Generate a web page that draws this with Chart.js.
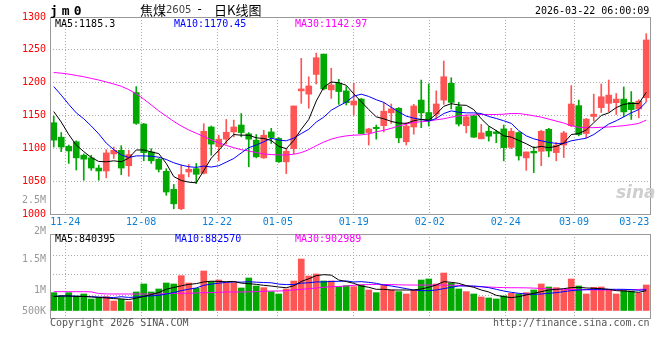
<!DOCTYPE html>
<html>
<head>
<meta charset="utf-8">
<title>jm0 日K线图</title>
<script src="https://cdn.jsdelivr.net/npm/chart.js@4.4.1/dist/chart.umd.min.js"></script>
<style>
    body { margin: 0; background: #fff; }
    #wrap { position: relative; width: 660px; height: 360px; overflow: hidden; font-family: "DejaVu Sans Mono", monospace; font-size: 10px; }
    #wrap canvas { position: absolute; left: 0; top: 0; }
    .t { position: absolute; white-space: nowrap; line-height: 10px; }
    .frame { position: absolute; border: 1px solid #999; box-sizing: border-box; }
</style>
</head>
<body>
<div id="wrap">
    <canvas id="priceChart" width="660" height="360"></canvas>
    <canvas id="volChart" width="660" height="360"></canvas>
    <div class="frame" style="left:50px;top:17px;width:601px;height:198px"></div>
    <div class="frame" style="left:50px;top:234px;width:601px;height:85px"></div>

    <div class="t" style="left:50px;top:4px;font-size:13px;line-height:13px;font-weight:bold;letter-spacing:4px">jm0</div>
    <div class="t" style="left:140px;top:3px;font-family:'Noto Sans CJK SC';font-size:13px;line-height:13px">焦煤</div>
    <div class="t" style="left:166px;top:5px;font-family:'DejaVu Sans';font-size:10px;color:#444">2605</div>
    <div class="t" style="left:196px;top:4px;font-size:12px">-</div>
    <div class="t" style="left:214px;top:3px;font-family:'Noto Sans CJK SC';font-size:13px;line-height:13px">日K线图</div>
    <div class="t" style="left:535px;top:6px">2026-03-22 06:00:09</div>

    <div class="t" style="left:55px;top:19px">MA5:1185.3</div>
    <div class="t" style="left:174px;top:19px;color:#0000ff">MA10:1170.45</div>
    <div class="t" style="left:295px;top:19px;color:#ff00ff">MA30:1142.97</div>

    <div class="t" style="left:55px;top:234px">MA5:840395</div>
    <div class="t" style="left:175px;top:234px;color:#0000ff">MA10:882570</div>
    <div class="t" style="left:295px;top:234px;color:#ff00ff">MA30:902989</div>

    <div class="t" style="left:616px;top:184px;font-family:'DejaVu Sans';font-size:17px;line-height:17px;font-weight:bold;font-style:italic;color:#cfcfcf">sina</div>

    <div class="t" style="left:50px;top:318px;color:#555">Copyright 2026 SINA.COM</div>
    <div class="t" style="left:493px;top:318px;color:#555">http://finance.sina.com.cn</div>
</div>
<script>
var dates = ['11-20', '11-21', '11-24', '11-25', '11-26', '11-27', '11-28', '12-01', '12-02', '12-03',
    '12-04', '12-05', '12-08', '12-09', '12-10', '12-11', '12-12', '12-15', '12-16', '12-17',
    '12-18', '12-19', '12-22', '12-23', '12-24', '12-25', '12-26', '12-29', '12-30', '12-31',
    '01-05', '01-06', '01-07', '01-08', '01-09', '01-12', '01-13', '01-14', '01-15', '01-16',
    '01-19', '01-20', '01-21', '01-22', '01-23', '01-26', '01-27', '01-28', '01-29', '01-30',
    '02-02', '02-03', '02-04', '02-05', '02-06', '02-09', '02-10', '02-11', '02-12', '02-13',
    '02-24', '02-25', '02-26', '02-27', '03-02', '03-03', '03-04', '03-05', '03-06', '03-09',
    '03-10', '03-11', '03-12', '03-13', '03-16', '03-17', '03-18', '03-19', '03-20', '03-23'];

var openPrices = [1139, 1117, 1103, 1110, 1089.5, 1085.5, 1070, 1065.5, 1091.5, 1097,
    1073.5, 1185, 1137, 1094.5, 1083.5, 1065, 1037.5, 1008, 1064, 1069,
    1062, 1132.5, 1102.5, 1114, 1125, 1135.5, 1122, 1112.5, 1085.5, 1125,
    1115, 1079.5, 1099.5, 1187.5, 1182.5, 1212.5, 1243.5, 1189, 1199, 1187.5,
    1166, 1175, 1124, 1132, 1134.5, 1154, 1161, 1110, 1132.5, 1173.5,
    1154.5, 1152, 1173.5, 1199, 1163.5, 1134.5, 1149.5, 1114.5, 1126, 1125,
    1129.5, 1101.5, 1124, 1085.5, 1095.5, 1095.5, 1129, 1093.5, 1105, 1134.5,
    1165, 1122.5, 1148.5, 1162, 1168.5, 1169.5, 1175, 1170, 1160, 1177];
var highPrices = [1149, 1124, 1105, 1111.5, 1091.5, 1089.5, 1074.5, 1098, 1102, 1104,
    1097, 1194, 1138, 1099.5, 1084.5, 1069, 1045, 1074.5, 1075.5, 1077,
    1137.5, 1134, 1120, 1144, 1143, 1153, 1124, 1121, 1127.5, 1130.5,
    1116.5, 1099.5, 1164.5, 1237, 1209, 1245, 1243.5, 1222, 1205, 1194,
    1199, 1176, 1130.5, 1135.5, 1169.5, 1167.5, 1162, 1139, 1167, 1204,
    1198, 1187.5, 1233, 1207.5, 1170, 1150.5, 1150.5, 1136.5, 1133, 1127.5,
    1135.5, 1130.5, 1125, 1094.5, 1102.5, 1127.5, 1130.5, 1109, 1126, 1195.5,
    1173.5, 1145.5, 1182.5, 1198, 1204, 1183.5, 1193.5, 1186.5, 1174, 1274.5];
var lowPrices = [1102, 1095, 1077, 1067, 1051.5, 1066.5, 1051.5, 1055, 1084.5, 1060,
    1057.5, 1136.5, 1081, 1077, 1064, 1028.5, 1008, 1006.5, 1056.5, 1046.5,
    1061, 1089.5, 1081, 1106.5, 1117.5, 1117.5, 1072, 1085.5, 1084.5, 1107.5,
    1078.5, 1061.5, 1092, 1168.5, 1161, 1198, 1189, 1176, 1167, 1166,
    1150.5, 1122.5, 1105, 1114, 1125, 1138, 1108.5, 1105, 1121.5, 1131.5,
    1134, 1145.5, 1167, 1160, 1134, 1123.5, 1116.5, 1114.5, 1111, 1108.5,
    1081, 1099.5, 1082, 1066.5, 1063, 1073.5, 1087, 1081, 1086, 1133,
    1119, 1116, 1141.5, 1154.5, 1155.5, 1151.5, 1148, 1144, 1146.5, 1171];
var closePrices = [1112.5, 1102, 1096, 1085.5, 1083.5, 1070, 1065.5, 1093, 1097, 1070,
    1090.5, 1138, 1093.5, 1081, 1068, 1033.5, 1015.5, 1060, 1068, 1060.5,
    1126, 1106.5, 1114, 1124.5, 1132.5, 1124, 1114, 1087, 1120, 1116.5,
    1079.5, 1095.5, 1164.5, 1190.5, 1195, 1238, 1190.5, 1196.5, 1186.5, 1169.5,
    1172, 1122.5, 1129.5, 1130, 1156.5, 1160, 1116, 1134, 1164.5, 1154,
    1143, 1167.5, 1209, 1170, 1137, 1148, 1117, 1123.5, 1118.5, 1122.5,
    1101, 1126, 1088.5, 1094.5, 1093, 1126, 1096, 1105, 1123.5, 1167.5,
    1121, 1144.5, 1152, 1178.5, 1181, 1175, 1155.5, 1159, 1172, 1265];

var ma5 = [1156, 1140, 1121, 1105, 1095, 1086, 1080, 1079.5, 1081, 1079.5,
    1085, 1097.5, 1097.5, 1094.5, 1092, 1077, 1057, 1051, 1048.5, 1047.5,
    1066, 1085, 1097, 1110, 1121, 1120, 1120, 1116, 1115, 1112,
    1103, 1099.5, 1112, 1129, 1144, 1172, 1193, 1201, 1200, 1196,
    1183, 1171, 1159, 1148, 1145, 1141, 1138.5, 1138, 1142, 1144,
    1143, 1152, 1164, 1168, 1166, 1165.5, 1159, 1145, 1134, 1127,
    1119, 1117, 1112, 1107, 1101, 1103, 1101, 1103, 1108, 1121,
    1122.5, 1128, 1139, 1150, 1154, 1162, 1167, 1168.5, 1168, 1185.3];
var ma10 = [1194, 1181, 1167, 1154, 1145, 1134, 1122, 1108, 1098, 1090,
    1086, 1088.5, 1088.5, 1088, 1086.5, 1083, 1078, 1074.5, 1072, 1071,
    1073, 1071.5, 1073.5, 1079, 1084.5, 1093, 1101, 1105, 1110, 1115.5,
    1112.5, 1111.5, 1115.5, 1122.5, 1129, 1140, 1147.5, 1158, 1164.5, 1170.5,
    1179.5, 1182.5, 1179, 1174, 1170, 1162.5, 1155.5, 1149, 1146, 1144,
    1141.5, 1145.5, 1153, 1157, 1155, 1154, 1154, 1153, 1148.5, 1145.5,
    1142, 1138, 1127, 1119, 1114.5, 1111.5, 1109, 1107.5, 1107.5, 1111.5,
    1113.5, 1115.5, 1121, 1129, 1137, 1142, 1148, 1154, 1159, 1170.45];
var ma30 = [1215.5, 1214.5, 1213, 1211, 1209, 1206.5, 1204, 1201, 1198, 1194.5,
    1189.5, 1183, 1175, 1166, 1157, 1149, 1141, 1134, 1128, 1123,
    1118, 1113, 1108.5, 1104.5, 1101, 1098, 1096, 1093.5, 1091.5, 1090.5,
    1090, 1090, 1091, 1093.5, 1098, 1104, 1109.5, 1114, 1117, 1119,
    1120, 1120.5, 1122, 1125, 1127.5, 1130.5, 1134, 1137, 1139.5, 1140.5,
    1141.5, 1143.5, 1145, 1147.5, 1149.5, 1150.5, 1151, 1151.5, 1151.5, 1151.5,
    1152, 1153, 1153, 1151.5, 1149.5, 1147.5, 1144.5, 1141.5, 1138.5, 1134.5,
    1132, 1131.5, 1131.5, 1132, 1132.5, 1133.5, 1134.5, 1136, 1138, 1142.97];

var volumes = [757000, 620000, 757000, 620000, 702000, 496000, 551000, 592000, 413000, 482000,
    386000, 785000, 1115000, 785000, 909000, 1156000, 1115000, 1459000, 1156000, 936000,
    1652000, 1211000, 1280000, 1170000, 1170000, 950000, 1363000, 1032000, 964000, 799000,
    702000, 909000, 1239000, 2148000, 1445000, 1528000, 1239000, 1239000, 1005000, 1046000,
    1005000, 1074000, 867000, 757000, 1074000, 867000, 799000, 702000, 867000, 1280000,
    1322000, 1115000, 1569000, 1142000, 909000, 799000, 702000, 578000, 537000, 496000,
    620000, 730000, 702000, 757000, 867000, 1115000, 991000, 964000, 854000, 1322000,
    1032000, 702000, 978000, 991000, 854000, 702000, 867000, 826000, 743000, 1074000];
var volMa5 = [592000, 620000, 620000, 600000, 600000, 580000, 560000, 540000, 510000, 500000,
    470000, 530000, 600000, 680000, 760000, 900000, 970000, 1040000, 1100000, 1130000,
    1200000, 1230000, 1220000, 1210000, 1220000, 1150000, 1130000, 1100000, 1060000, 1030000,
    990000, 960000, 1040000, 1220000, 1330000, 1460000, 1500000, 1480000, 1280000, 1215000,
    1142000, 1032000, 978000, 895000, 895000, 867000, 867000, 867000, 867000, 909000,
    978000, 1074000, 1211000, 1184000, 1142000, 1046000, 978000, 867000, 785000, 647000,
    592000, 551000, 592000, 661000, 730000, 799000, 867000, 895000, 922000, 964000,
    978000, 950000, 936000, 922000, 895000, 840000, 826000, 799000, 771000, 840395];
var volMa10 = [606000, 620000, 620000, 610000, 600000, 590000, 575000, 565000, 555000, 590000,
    560000, 575000, 605000, 625000, 645000, 700000, 760000, 840000, 900000, 950000,
    1060000, 1110000, 1150000, 1180000, 1200000, 1190000, 1210000, 1190000, 1175000, 1165000,
    1110000, 1090000, 1090000, 1150000, 1165000, 1200000, 1200000, 1220000, 1225000, 1240000,
    1198000, 1211000, 1184000, 1142000, 1074000, 1032000, 978000, 922000, 867000, 840000,
    840000, 867000, 922000, 978000, 1032000, 1032000, 1032000, 1005000, 964000, 895000,
    826000, 771000, 730000, 702000, 688000, 702000, 730000, 757000, 799000, 840000,
    867000, 881000, 895000, 895000, 895000, 895000, 895000, 881000, 854000, 882570];
var volMa30 = [797000, 797000, 797000, 797000, 797000, 790000, 720000, 705000, 702000, 702000,
    702000, 702000, 702000, 702000, 702000, 715000, 730000, 730000, 730000, 745000,
    757000, 757000, 770000, 785000, 785000, 785000, 790000, 799000, 810000, 826000,
    826000, 840000, 870000, 895000, 920000, 950000, 980000, 1000000, 1015000, 1030000,
    1060000, 1080000, 1090000, 1095000, 1095000, 1090000, 1080000, 1075000, 1070000, 1070000,
    1070000, 1070000, 1070000, 1065000, 1060000, 1040000, 1010000, 1000000, 990000, 975000,
    965000, 960000, 960000, 955000, 945000, 930000, 910000, 895000, 890000, 885000,
    880000, 875000, 870000, 868000, 865000, 865000, 870000, 880000, 890000, 902989];

var dateTickLabels = ['11-24', '12-08', '12-22', '01-05', '01-19', '02-02', '02-24', '03-09', '03-23'];
var priceTicks = [1000, 1050, 1100, 1150, 1200, 1250, 1300];
var volTickLabels = ['2.5M', '2M', '1.5M', '1M', '500K'];
var volTickValues = [4580000, 3300000, 2110000, 830000, 0];
var volGridValues = [660000, 1490000, 2310000];

var upColor = '#ff5555';
var downColor = '#00a800';
var gridColor = '#aaaaaa';
var candleColors = openPrices.map(function (o, i) {
    return closePrices[i] >= o ? upColor : downColor;
});

function points(arr) {
    return arr.map(function (v, i) { return { x: i, y: v }; });
}

// sina spreads the date grid over n-1 steps, and pushes the last label inside the frame
function dateTicks() {
    var n = dates.length;
    return dateTickLabels.map(function (d) {
        var v = dates.indexOf(d) * n / (n - 1) - 0.5;
        var inside = v < n - 2;
        return { value: inside ? v : n - 2.6, text: d, grid: inside };
    });
}

function lineSet(label, arr, color) {
    return {
        type: 'line', label: label, data: points(arr), borderColor: color,
        borderWidth: 1, pointRadius: 0, tension: 0, order: 0
    };
}

function tickGrid(ctx) {
    return ctx.tick && ctx.tick.grid ? gridColor : 'rgba(0,0,0,0)';
}

Chart.defaults.font.family = '"DejaVu Sans Mono", monospace';
Chart.defaults.font.size = 10;

var xBase = {
    type: 'linear', min: -0.5, max: dates.length - 0.5, offset: false,
    grid: { color: tickGrid, drawTicks: false, offset: false },
    border: { display: false, dash: [1, 2] }
};

new Chart(document.getElementById('priceChart'), {
    type: 'bar',
    data: {
        datasets: [
            lineSet('MA5', ma5, '#000000'),
            lineSet('MA10', ma10, '#0000ff'),
            lineSet('MA30', ma30, '#ff00ff'),
            {
                label: 'wick',
                data: lowPrices.map(function (l, i) { return { x: i, y: [l, highPrices[i]] }; }),
                backgroundColor: candleColors, barThickness: 1, grouped: false, order: 2
            },
            {
                label: 'body',
                data: openPrices.map(function (o, i) { return { x: i, y: [o, closePrices[i]] }; }),
                backgroundColor: candleColors, barThickness: 6, minBarLength: 1, grouped: false, order: 1
            }
        ]
    },
    options: {
        responsive: false, animation: false, devicePixelRatio: 1,
        layout: { padding: { left: 0, right: 10, top: 17, bottom: 0 } },
        plugins: { legend: { display: false }, tooltip: { enabled: false } },
        scales: {
            x: Object.assign({}, xBase, {
                afterBuildTicks: function (s) { s.ticks = dateTicks(); },
                afterFit: function (s) { s.height = 146; },
                ticks: {
                    autoSkip: false, maxRotation: 0, color: '#0a7fd6', padding: 2,
                    callback: function (v, i, t) { return t[i].text; }
                }
            }),
            y: {
                min: 1000, max: 1300,
                afterBuildTicks: function (s) { s.ticks = priceTicks.map(function (v) { return { value: v }; }); },
                afterFit: function (s) { s.width = 50; },
                ticks: {
                    color: '#ff0000', padding: 4, autoSkip: false,
                    callback: function (v) { return String(v); }
                },
                grid: { color: gridColor, drawTicks: false },
                border: { display: false, dash: [1, 2] }
            }
        }
    }
});

new Chart(document.getElementById('volChart'), {
    type: 'bar',
    data: {
        datasets: [
            lineSet('MA5', volMa5, '#000000'),
            lineSet('MA10', volMa10, '#0000ff'),
            lineSet('MA30', volMa30, '#ff00ff'),
            {
                label: 'volume', data: points(volumes),
                backgroundColor: candleColors, barThickness: 6, grouped: false, order: 1
            }
        ]
    },
    options: {
        responsive: false, animation: false, devicePixelRatio: 1,
        layout: { padding: { left: 0, right: 10, top: 234, bottom: 0 } },
        plugins: { legend: { display: false }, tooltip: { enabled: false } },
        scales: {
            x: Object.assign({}, xBase, {
                afterBuildTicks: function (s) { s.ticks = dateTicks().filter(function (t) { return t.grid; }); },
                afterFit: function (s) { s.height = 42; },
                ticks: { display: false }
            }),
            y: {
                min: -290000, max: 3180000,
                afterBuildTicks: function (s) {
                    var t = volTickValues.map(function (v, i) { return { value: v, text: volTickLabels[i], grid: false }; });
                    volGridValues.forEach(function (v) { t.push({ value: v, text: '', grid: true }); });
                    s.ticks = t;
                },
                afterFit: function (s) { s.width = 50; },
                ticks: {
                    color: '#999999', padding: 4, autoSkip: false,
                    callback: function (v, i, t) { return t[i].text; }
                },
                grid: { color: tickGrid, drawTicks: false },
                border: { display: false, dash: [1, 2] }
            }
        }
    }
});
</script>
</body>
</html>
